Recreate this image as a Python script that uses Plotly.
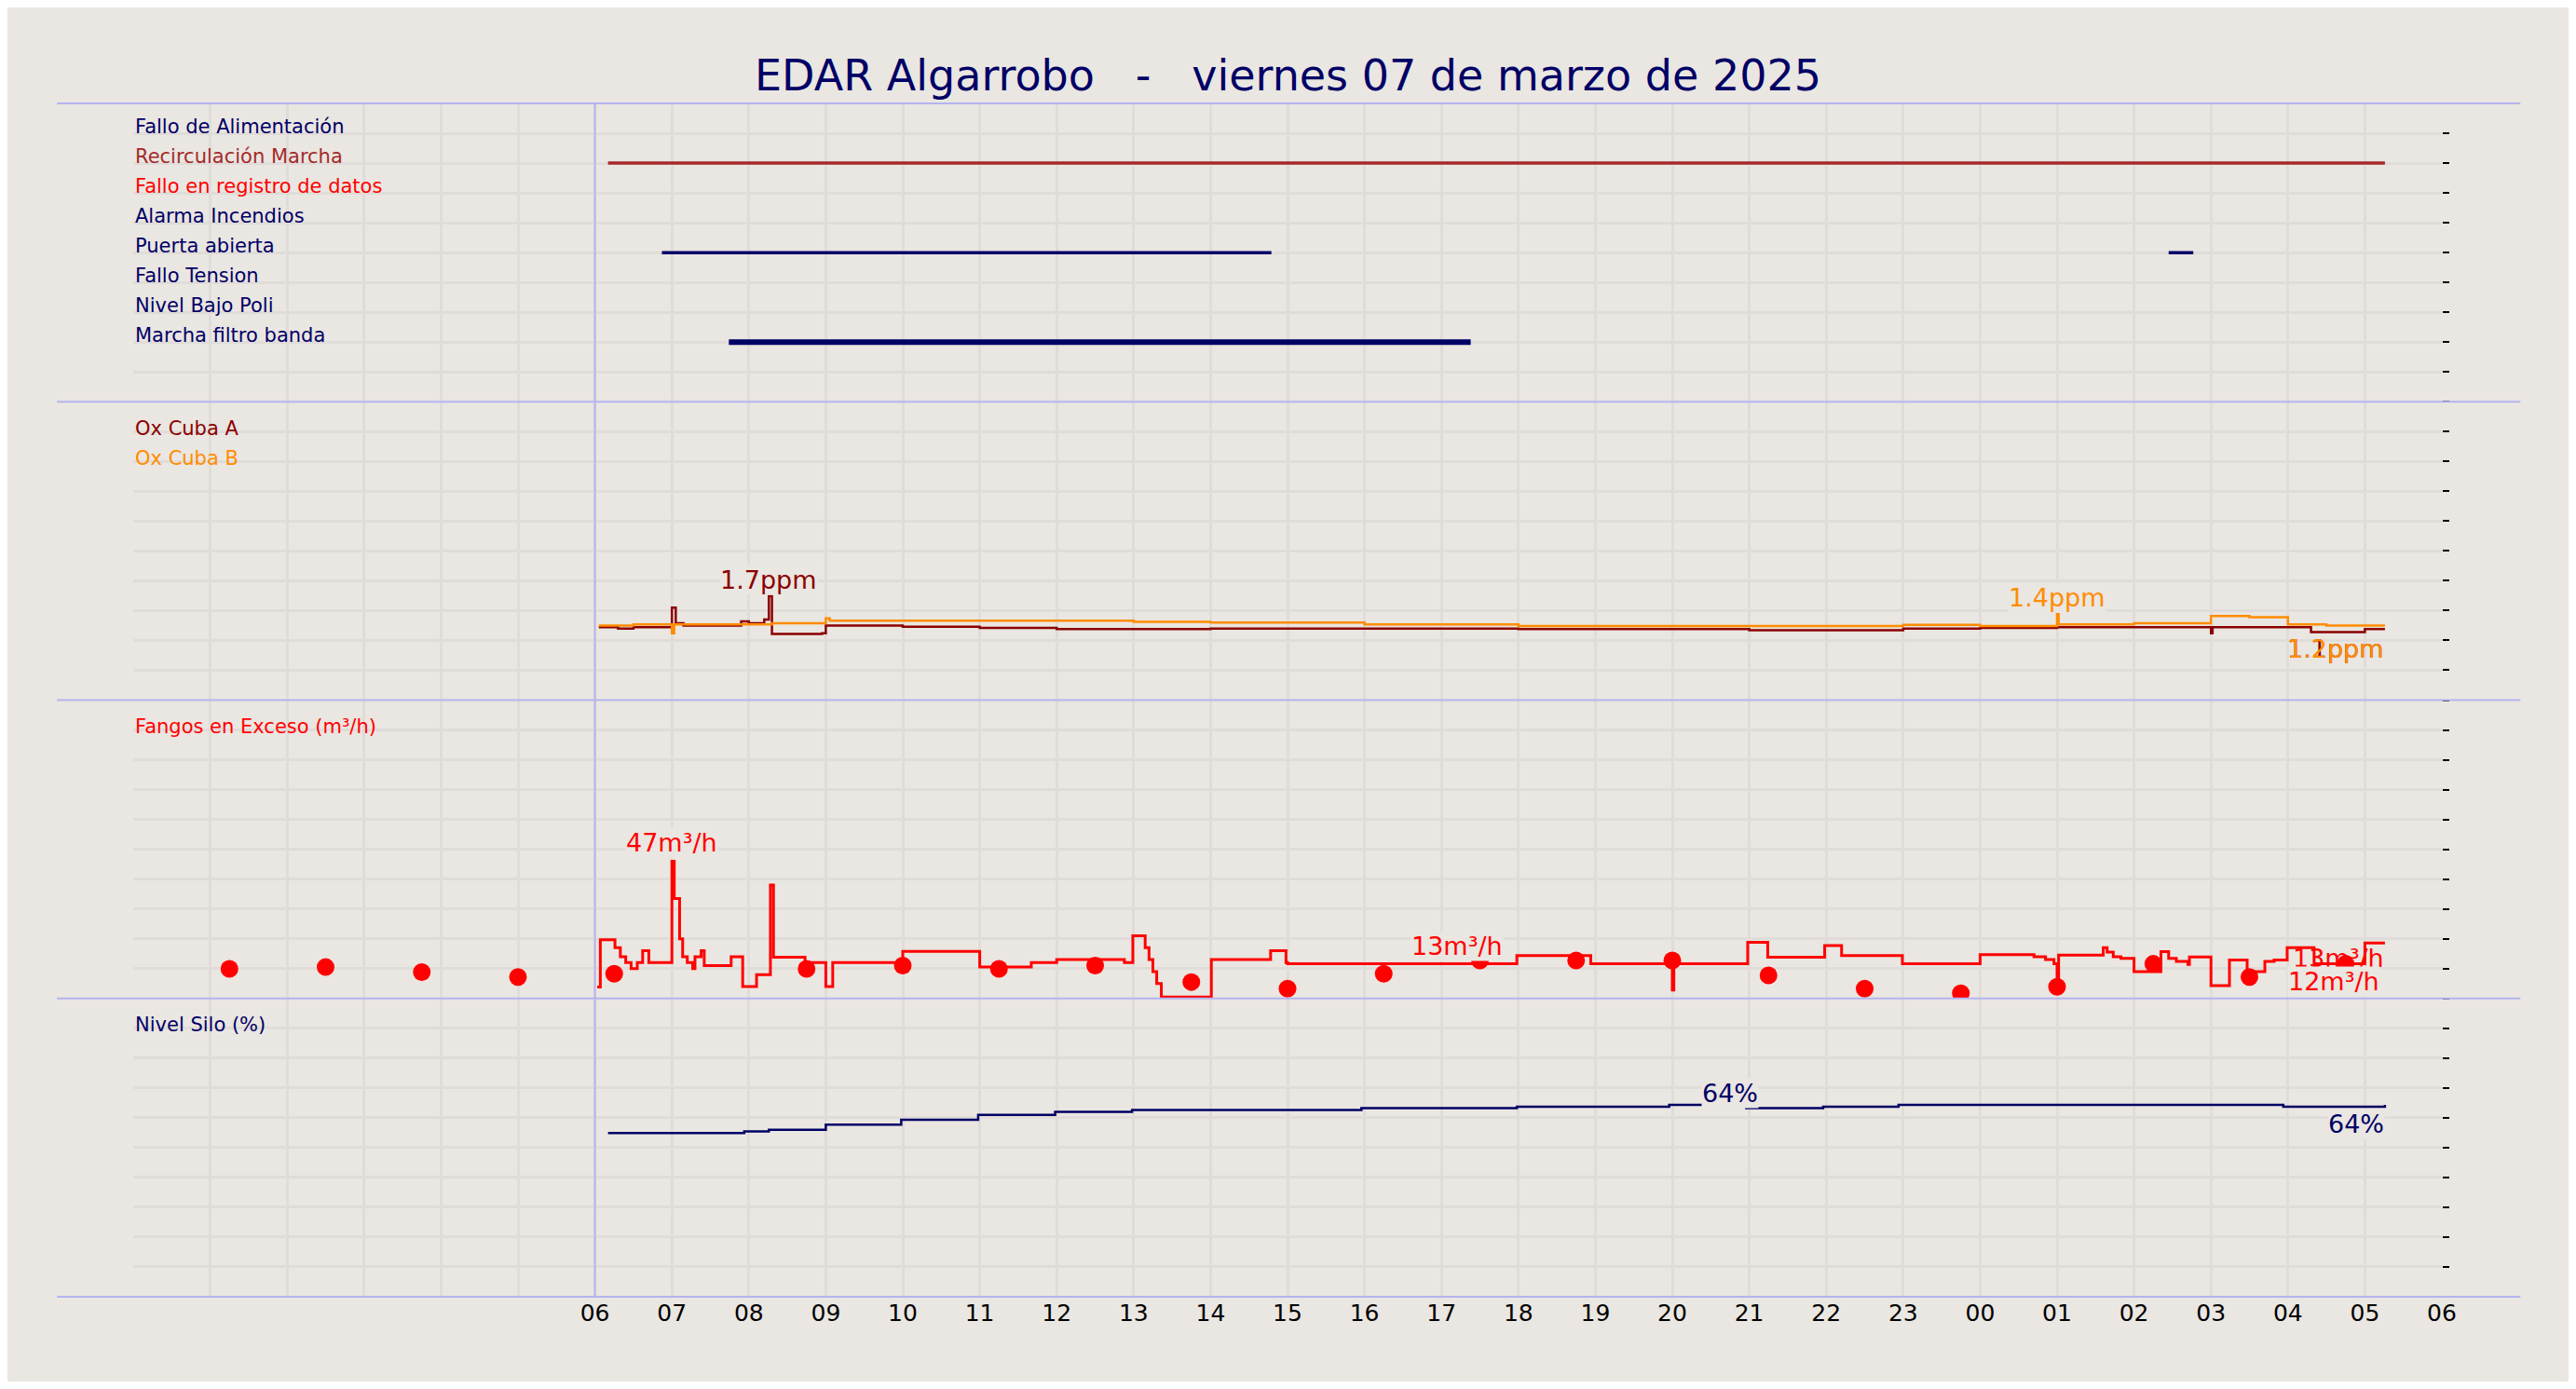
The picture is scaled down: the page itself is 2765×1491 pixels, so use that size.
import pandas as pd
import plotly.graph_objects as go
from plotly.subplots import make_subplots

base = pd.Timestamp("2025-03-06 06:00")

# --- estado (panel 1): rows and on-intervals (hours from 06:00) ---
estado_labels = ["Fallo de Alimentación", "Recirculación Marcha", "Fallo en registro de datos",
                 "Alarma Incendios", "Puerta abierta", "Fallo Tension", "Nivel Bajo Poli",
                 "Marcha filtro banda"]
estado_colors = ["#000066", "#A52A2A", "#FF0000", "#000066", "#000066", "#000066", "#000066", "#000066"]
estado_rows = [9, 8, 7, 6, 5, 4, 3, 2]
recirc_on = [(0.17, 23.26)]
puerta_on = [(0.87, 8.79), (20.45, 20.77)]
filtro_on = [(1.74, 11.38)]

# --- Ox (ppm) ---
oxa_h = [0.05, 0.3, 0.5, 0.95, 1.0, 1.05, 1.15, 1.9, 2.0, 2.2, 2.26, 2.3, 2.95, 3.0, 4.0, 5.0, 6.0,
         7.0, 8.0, 10.0, 12.0, 13.95, 14.0, 15.0, 17.0, 18.0, 19.0, 20.0, 20.98, 21.0, 21.02, 22.3, 23.0, 23.26]
oxa_v = [1.22, 1.20, 1.22, 1.22, 1.55, 1.29, 1.25, 1.32, 1.29, 1.35, 1.74, 1.11, 1.12, 1.25, 1.23, 1.21, 1.19,
         1.19, 1.20, 1.20, 1.19, 1.19, 1.19, 1.17, 1.20, 1.21, 1.22, 1.22, 1.22, 1.12, 1.22, 1.14, 1.19, 1.19]
oxb_h = [0.05, 0.5, 1.0, 1.03, 2.3, 3.0, 3.05, 7.0, 8.0, 10.0, 12.0, 14.0, 17.0, 18.0, 19.0, 19.02, 20.0,
         21.0, 21.5, 22.0, 22.5, 23.26]
oxb_v = [1.25, 1.27, 1.12, 1.27, 1.29, 1.37, 1.33, 1.31, 1.30, 1.27, 1.24, 1.24, 1.26, 1.24, 1.44, 1.27, 1.29,
         1.41, 1.39, 1.27, 1.25, 1.25]

# --- Fangos en exceso (m3/h) ---
fan_h = [0.03, 0.07, 0.26, 0.33, 0.4, 0.47, 0.55, 0.62, 0.7, 1.0, 1.03, 1.1, 1.14, 1.2, 1.27, 1.3, 1.38, 1.42,
         1.73, 1.77, 1.9, 1.92, 2.08, 2.1, 2.26, 2.28, 2.32, 2.72, 2.73, 2.98, 3.0, 3.09, 4.0, 5.0, 5.67, 6.0,
         6.88, 6.99, 7.15, 7.2, 7.25, 7.3, 7.36, 8.01, 8.78, 8.98, 9.0, 11.98, 12.94, 14.0, 14.02, 14.98, 15.24,
         15.98, 16.2, 16.99, 18.0, 18.7, 18.85, 18.96, 19.0, 19.02, 19.6, 19.65, 19.73, 19.83, 20.0, 20.35,
         20.45, 20.55, 20.7, 20.72, 21.0, 21.24, 21.47, 21.7, 21.82, 21.99, 22.34, 23.0, 23.26]
fan_v = [3.8, 19.7, 17, 14, 12, 10, 12, 16, 12, 46, 33.5, 20, 14, 12, 10, 14, 16, 11,
         11, 14, 14, 4, 4, 8, 8, 38, 13.8, 13.8, 12, 12, 4, 12, 15.8, 10.5, 12, 13,
         12, 21, 17, 13, 9, 5, 0.5, 13, 16, 12, 11.6, 14.4, 11.6, 2.8, 11.6, 18.8, 13.8,
         17.7, 14.4, 11.6, 14.7, 14, 13, 11.6, 4.3, 14.5, 17, 15.5, 14, 13.4, 9, 15.7,
         13.4, 12.4, 11.4, 13.9, 4.3, 12.9, 9, 12.4, 12.9, 17, 11.6, 18.6, 18.6]
dots_h = [-4.75, -3.5, -2.25, -1.0, 0.25, 2.75, 4.0, 5.25, 6.5, 7.75, 9.0, 10.25, 11.5, 12.75, 14.0,
          15.25, 16.5, 17.75, 19.0, 20.25, 21.5, 22.75]
dots_v = [9.9, 10.5, 8.8, 7.2, 8.3, 9.9, 11, 9.9, 11, 5.5, 3.3, 8.3, 12.7, 12.7, 12.7, 7.7, 3.3, 1.7,
          3.9, 11.6, 7.2, 11.6]

# --- Nivel silo (%) ---
silo_h = [0.17, 1.94, 2.26, 3.0, 3.98, 4.98, 5.98, 6.98, 7.98, 9.96, 11.98, 13.96, 14.96, 15.96, 16.94,
          21.94, 23.26]
silo_v = [54.9, 55.4, 56.0, 57.7, 59.3, 61.0, 62.0, 62.6, 62.6, 63.2, 63.7, 64.3, 63.2, 63.7, 64.3, 63.7, 64.3]


def t(hs):
    return [base + pd.Timedelta(hours=h) for h in hs]


def segs(intervals, yv):
    xs, ys = [], []
    for a, b in intervals:
        xs += [base + pd.Timedelta(hours=a), base + pd.Timedelta(hours=b), None]
        ys += [yv, yv, None]
    return xs, ys


BG = "#EAE6E1"
GRID = "#E0DCD9"
NAVY = "#000066"

fig = make_subplots(rows=4, cols=1, shared_xaxes=True, vertical_spacing=0)

for iv, row, col, w in [(recirc_on, 8, "#A52A2A", 3.5), (puerta_on, 5, NAVY, 3.5), (filtro_on, 2, NAVY, 6)]:
    xs, ys = segs(iv, row)
    fig.add_trace(go.Scatter(x=xs, y=ys, mode="lines", line=dict(color=col, width=w)), row=1, col=1)

fig.add_trace(go.Scatter(x=t(oxa_h), y=oxa_v, mode="lines", line=dict(color="#8B0000", width=2.5, shape="hv")), row=2, col=1)
fig.add_trace(go.Scatter(x=t(oxb_h), y=oxb_v, mode="lines", line=dict(color="#FF8C00", width=2.5, shape="hv")), row=2, col=1)
fig.add_trace(go.Scatter(x=t(fan_h), y=fan_v, mode="lines", line=dict(color="#FF0000", width=3, shape="hv")), row=3, col=1)
fig.add_trace(go.Scatter(x=t(dots_h), y=dots_v, mode="markers", marker=dict(color="#FF0000", size=19)), row=3, col=1)
fig.add_trace(go.Scatter(x=t(silo_h), y=silo_v, mode="lines", line=dict(color=NAVY, width=2.5, shape="hv")), row=4, col=1)

x0 = base - pd.Timedelta(hours=6)
x1 = base + pd.Timedelta(hours=24)
tickvals = [base + pd.Timedelta(hours=h) for h in range(25)]
ticktext = [v.strftime("%H") for v in tickvals]
for r in range(1, 5):
    fig.update_xaxes(row=r, col=1, range=[x0, x1], tickvals=tickvals, ticktext=ticktext,
                     showgrid=True, gridcolor=GRID, gridwidth=2.5, zeroline=False, showline=False,
                     ticks="", tickfont=dict(size=25, color="black", family="DejaVu Sans"),
                     showticklabels=(r == 4),
                     minor=dict(dtick=3600000, tick0=x0, showgrid=True, gridcolor=GRID, gridwidth=2.5))

yr = {1: ([0, 10], 1), 2: ([0, 5], 0.5), 3: ([0, 100], 10), 4: ([0, 100], 10)}
for r, (rng, dt) in yr.items():
    fig.update_yaxes(row=r, col=1, range=rng, dtick=dt, tick0=0, side="right", showticklabels=False,
                     ticks="outside", ticklen=7, tickcolor="black", tickwidth=2,
                     showgrid=True, gridcolor=GRID, gridwidth=3, zeroline=False, showline=False)

# labels
font_lbl = "DejaVu Sans"
ann = []
for lbl, c, rv in zip(estado_labels, estado_colors, estado_rows):
    ann.append(dict(x=0, xref="x domain", y=rv, yref="y", text=lbl, showarrow=False, xanchor="left",
                    yanchor="bottom", yshift=-7, font=dict(size=21, color=c, family=font_lbl)))
ann.append(dict(x=0, xref="x2 domain", y=0.955, yref="y2 domain", text="Ox Cuba A", showarrow=False,
                xanchor="left", yanchor="top", font=dict(size=21, color="#8B0000", family=font_lbl)))
ann.append(dict(x=0, xref="x2 domain", y=0.855, yref="y2 domain", text="Ox Cuba B", showarrow=False,
                xanchor="left", yanchor="top", font=dict(size=21, color="#FF8C00", family=font_lbl)))
ann.append(dict(x=0, xref="x3 domain", y=0.955, yref="y3 domain", text="Fangos en Exceso (m³/h)", showarrow=False,
                xanchor="left", yanchor="top", font=dict(size=21, color="#FF0000", family=font_lbl)))
ann.append(dict(x=0, xref="x4 domain", y=0.955, yref="y4 domain", text="Nivel Silo (%)", showarrow=False,
                xanchor="left", yanchor="top", font=dict(size=21, color=NAVY, family=font_lbl)))


def val_ann(h, v, txt, col, xr, yr_, xa="center", ya="bottom", bg=BG):
    return dict(x=base + pd.Timedelta(hours=h), y=v, xref=xr, yref=yr_, text=txt, showarrow=False,
                xanchor=xa, yanchor=ya, bgcolor=bg, borderpad=0,
                font=dict(size=27, color=col, family=font_lbl))


ann += [val_ann(2.26, 1.76, "1.7ppm", "#8B0000", "x2", "y2"),
        val_ann(19.0, 1.46, "1.4ppm", "#FF8C00", "x2", "y2"),
        val_ann(23.26, 1.12, "1.1ppm", "#8B0000", "x2", "y2", "right", "top", "rgba(0,0,0,0)"),
        val_ann(23.26, 1.12, "1.2ppm", "#FF8C00", "x2", "y2", "right", "top", "rgba(0,0,0,0)"),
        val_ann(1.0, 47, "47m³/h", "#FF0000", "x3", "y3"),
        val_ann(11.2, 12.5, "13m³/h", "#FF0000", "x3", "y3"),
        val_ann(23.26, 18.6, "13m³/h", "#FF0000", "x3", "y3", "right", "top", "rgba(0,0,0,0)"),
        val_ann(22.6, 11.0, "12m³/h", "#FF0000", "x3", "y3", "center", "top"),
        val_ann(14.75, 63.0, "64%", NAVY, "x4", "y4"),
        val_ann(23.26, 63.0, "64%", NAVY, "x4", "y4", "right", "top")]

shapes = []
for yp in [0, 0.25, 0.5, 0.75, 1.0]:
    shapes.append(dict(type="line", xref="paper", yref="paper", x0=-0.033, x1=1.034, y0=yp, y1=yp,
                       line=dict(color="#B4B4F0", width=2)))
shapes.append(dict(type="line", xref="x", yref="paper", x0=base, x1=base, y0=0, y1=1,
                   line=dict(color="#B4B4F0", width=2)))

fig.update_layout(
    width=2749, height=1475, autosize=False,
    margin=dict(l=135, r=136, t=103, b=91),
    paper_bgcolor=BG, plot_bgcolor=BG, showlegend=False,
    title=dict(text="EDAR Algarrobo   -   viernes 07 de marzo de 2025", x=0.5, xanchor="center",
               y=1 - 73 / 1475, yanchor="middle", font=dict(size=46, color=NAVY, family="DejaVu Sans")),
    annotations=ann, shapes=shapes,
)

fig.write_html("out.html")
